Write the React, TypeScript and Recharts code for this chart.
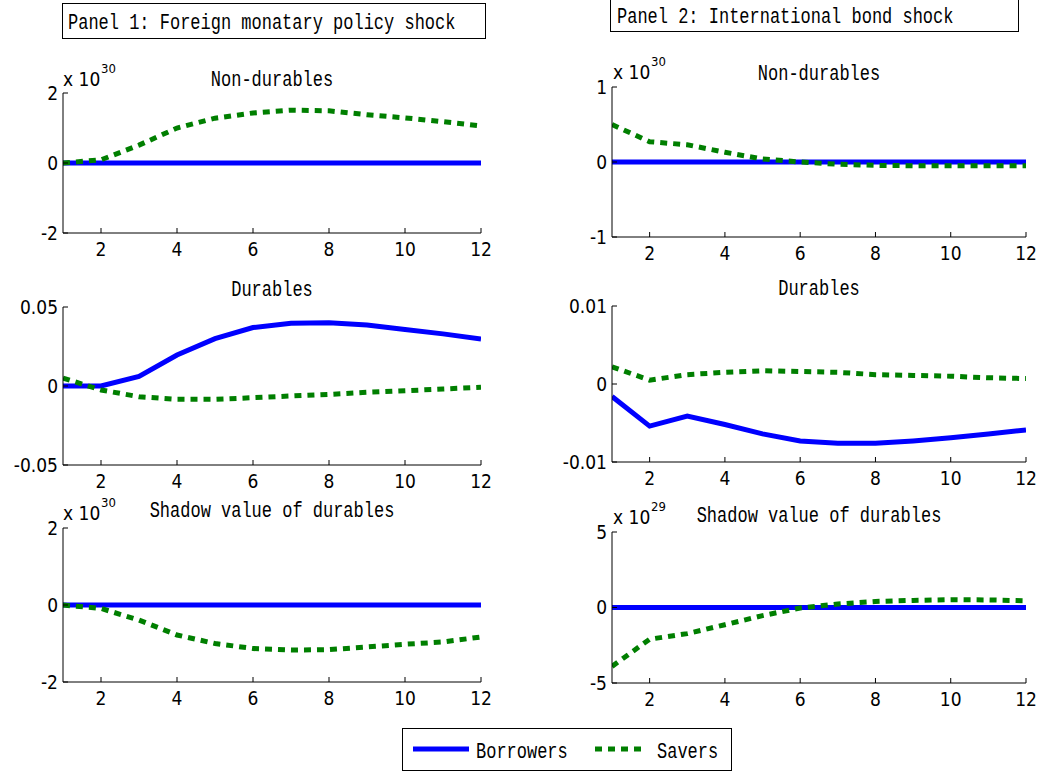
import React from 'react';
import { LineChart, Line, XAxis, YAxis } from 'recharts';

// ---------- data ----------
const periods = [1, 2, 3, 4, 5, 6, 7, 8, 9, 10, 11, 12];
const xTicks = [2, 4, 6, 8, 10, 12];

// Panel 1: Foreign monetary policy shock
const p1NonDurBorrowers = [0, 0, 0, 0, 0, 0, 0, 0, 0, 0, 0, 0];
const p1NonDurSavers = [0, 0.09, 0.51, 1.0, 1.28, 1.43, 1.51, 1.49, 1.38, 1.29, 1.18, 1.06];
const p1DurBorrowers = [0, 0, 0.006, 0.0196, 0.03, 0.037, 0.0397, 0.04, 0.0386, 0.0358, 0.033, 0.0297];
const p1DurSavers = [0.005, -0.0025, -0.0068, -0.0084, -0.0084, -0.0074, -0.0063, -0.0053, -0.004, -0.003, -0.0019, -0.0008];
const p1ShadowBorrowers = [0, 0, 0, 0, 0, 0, 0, 0, 0, 0, 0, 0];
const p1ShadowSavers = [0, -0.09, -0.39, -0.78, -1.0, -1.13, -1.17, -1.16, -1.09, -1.02, -0.96, -0.83];

// Panel 2: International bond shock
const p2NonDurBorrowers = [0, 0, 0, 0, 0, 0, 0, 0, 0, 0, 0, 0];
const p2NonDurSavers = [0.5, 0.27, 0.23, 0.13, 0.04, 0, -0.03, -0.045, -0.05, -0.05, -0.05, -0.05];
const p2DurBorrowers = [-0.0016, -0.0054, -0.0041, -0.0052, -0.0064, -0.0073, -0.0076, -0.0076, -0.0073, -0.0069, -0.0064, -0.0059];
const p2DurSavers = [0.0022, 0.0005, 0.0012, 0.0015, 0.0017, 0.0016, 0.0015, 0.0012, 0.0011, 0.001, 0.0008, 0.0007];
const p2ShadowBorrowers = [0, 0, 0, 0, 0, 0, 0, 0, 0, 0, 0, 0];
const p2ShadowSavers = [-3.9, -2.1, -1.73, -1.14, -0.54, -0.03, 0.23, 0.4, 0.47, 0.52, 0.5, 0.45];

const yTicksTwo = [-2, 0, 2];
const yTicksOne = [-1, 0, 1];
const yTicksFive = [-5, 0, 5];
const yTicksP1Dur = [-0.05, 0, 0.05];
const yTicksP2Dur = [-0.01, 0, 0.01];

const panelTitles = ['Panel 1: Foreign monatary policy shock', 'Panel 2: International bond shock'];
const plotTitles = ['Non-durables', 'Durables', 'Shadow value of durables'];
const seriesNames = ['Borrowers', 'Savers'];

// ---------- styles ----------
const BLUE = '#0000FF';
const GREEN = '#007F00';
const TICK_FONT = "'DejaVu Sans Condensed', 'DejaVu Sans', sans-serif";
const MONO_FONT = "'Liberation Mono', 'DejaVu Sans Mono', monospace";
const DASH = '7 6';
const TICK_SIZE = 19;

const ML = 60, MT = 14, MR = 22, MB = 32;

type SubplotProps = {
  left: number;
  top: number;
  width: number;
  height: number;
  borrowers: number[];
  savers: number[];
  yTicks: number[];
};

const Subplot = ({ left, top, width, height, borrowers, savers, yTicks }: SubplotProps) => {
  const data = periods.map((p, i) => ({ x: p, b: borrowers[i], s: savers[i] }));
  const domain: [number, number] = [yTicks[0], yTicks[yTicks.length - 1]];
  const tickStyle = { fill: '#000', fontSize: TICK_SIZE, fontFamily: TICK_FONT, style: { fontStretch: 'condensed' } } as any;
  return (
    <div style={{ position: 'absolute', left: left - ML, top: top - MT }}>
      <LineChart width={width + ML + MR} height={height + MT + MB} data={data} margin={{ top: MT, right: MR, bottom: 0, left: 0 }}>
        <XAxis
          xAxisId="b"
          dataKey="x"
          type="number"
          domain={[1, 12]}
          ticks={xTicks}
          allowDataOverflow
          height={MB}
          tickSize={-5}
          tickMargin={15}
          axisLine={{ stroke: '#000' }}
          tickLine={{ stroke: '#000' }}
          tick={tickStyle}
          interval={0}
        />
        <XAxis
          xAxisId="t"
          orientation="top"
          dataKey="x"
          type="number"
          domain={[1, 12]}
          ticks={xTicks}
          allowDataOverflow
          height={0}
          tickSize={-5}
          tick={false}
          axisLine={{ stroke: '#000' }}
          tickLine={{ stroke: '#000' }}
          interval={0}
        />
        <YAxis
          yAxisId="l"
          type="number"
          domain={domain}
          ticks={yTicks}
          allowDataOverflow
          width={ML}
          tickSize={-5}
          tickMargin={10}
          axisLine={{ stroke: '#000' }}
          tickLine={{ stroke: '#000' }}
          tick={tickStyle}
          interval={0}
        />
        <YAxis
          yAxisId="r"
          orientation="right"
          type="number"
          domain={domain}
          ticks={yTicks}
          allowDataOverflow
          width={0}
          tickSize={-5}
          tick={false}
          axisLine={{ stroke: '#000' }}
          tickLine={{ stroke: '#000' }}
          interval={0}
        />
        <Line
          xAxisId="b"
          yAxisId="l"
          type="linear"
          dataKey="b"
          name={seriesNames[0]}
          stroke={BLUE}
          strokeWidth={5}
          dot={false}
          isAnimationActive={false}
        />
        <Line
          xAxisId="b"
          yAxisId="l"
          type="linear"
          dataKey="s"
          name={seriesNames[1]}
          stroke={GREEN}
          strokeWidth={5}
          strokeDasharray={DASH}
          dot={false}
          isAnimationActive={false}
        />
      </LineChart>
    </div>
  );
};

const MonoText = ({ x, y, anchor = 'start', children }: any) => (
  <text
    transform={`translate(${x},${y}) scale(1,1.3)`}
    textAnchor={anchor}
    fontFamily={MONO_FONT}
    fontSize={17}
    fill="#000"
  >
    {children}
  </text>
);

const Multiplier = ({ x, y, exp }: { x: number; y: number; exp: string }) => (
  <g>
    <text x={x} y={y} fontFamily={TICK_FONT} fontSize={TICK_SIZE} fill="#000" style={{ fontStretch: 'condensed' }}>
      x 10
    </text>
    <text x={x + 38} y={y - 13} fontFamily={TICK_FONT} fontSize={13} fill="#000" style={{ fontStretch: 'condensed' }}>
      {exp}
    </text>
  </g>
);

const P1L = 63, P1R = 481;
const P2L = 612, P2R = 1026;

export default function App() {
  return (
    <div style={{ position: 'absolute', left: 0, top: 0, width: 1048, height: 774, background: '#fff', overflow: 'hidden' }}>
      {/* Panel 1 */}
      <Subplot left={P1L} top={93} width={P1R - P1L} height={140} borrowers={p1NonDurBorrowers} savers={p1NonDurSavers} yTicks={yTicksTwo} />
      <Subplot left={P1L} top={307} width={P1R - P1L} height={158} borrowers={p1DurBorrowers} savers={p1DurSavers} yTicks={yTicksP1Dur} />
      <Subplot left={P1L} top={528} width={P1R - P1L} height={154} borrowers={p1ShadowBorrowers} savers={p1ShadowSavers} yTicks={yTicksTwo} />
      {/* Panel 2 */}
      <Subplot left={P2L} top={87} width={P2R - P2L} height={150} borrowers={p2NonDurBorrowers} savers={p2NonDurSavers} yTicks={yTicksOne} />
      <Subplot left={P2L} top={306} width={P2R - P2L} height={156} borrowers={p2DurBorrowers} savers={p2DurSavers} yTicks={yTicksP2Dur} />
      <Subplot left={P2L} top={532} width={P2R - P2L} height={151} borrowers={p2ShadowBorrowers} savers={p2ShadowSavers} yTicks={yTicksFive} />

      <svg width={1048} height={774} style={{ position: 'absolute', left: 0, top: 0, pointerEvents: 'none' }}>
        {/* panel title boxes */}
        <rect x={62.5} y={3.5} width={423} height={35} fill="#fff" stroke="#000" strokeWidth={1} />
        <MonoText x={68} y={29}>{panelTitles[0]}</MonoText>
        <rect x={610.5} y={-1.5} width={408} height={33} fill="#fff" stroke="#000" strokeWidth={1} />
        <MonoText x={617} y={23}>{panelTitles[1]}</MonoText>

        {/* subplot titles */}
        <MonoText x={(P1L + P1R) / 2} y={86} anchor="middle">{plotTitles[0]}</MonoText>
        <MonoText x={(P1L + P1R) / 2} y={296} anchor="middle">{plotTitles[1]}</MonoText>
        <MonoText x={(P1L + P1R) / 2} y={517} anchor="middle">{plotTitles[2]}</MonoText>
        <MonoText x={(P2L + P2R) / 2} y={80} anchor="middle">{plotTitles[0]}</MonoText>
        <MonoText x={(P2L + P2R) / 2} y={295} anchor="middle">{plotTitles[1]}</MonoText>
        <MonoText x={(P2L + P2R) / 2} y={522} anchor="middle">{plotTitles[2]}</MonoText>

        {/* exponent labels */}
        <Multiplier x={63} y={86} exp="30" />
        <Multiplier x={63} y={520} exp="30" />
        <Multiplier x={613} y={79} exp="30" />
        <Multiplier x={613} y={524} exp="29" />

        {/* legend */}
        <rect x={402.5} y={728.5} width={329} height={42} fill="#fff" stroke="#000" strokeWidth={1} />
        <line x1={413} y1={749} x2={469} y2={749} stroke={BLUE} strokeWidth={5} />
        <MonoText x={476} y={758}>{seriesNames[0]}</MonoText>
        <line x1={595} y1={749} x2={647} y2={749} stroke={GREEN} strokeWidth={5} strokeDasharray={DASH} />
        <MonoText x={657} y={758}>{seriesNames[1]}</MonoText>
      </svg>
    </div>
  );
}
